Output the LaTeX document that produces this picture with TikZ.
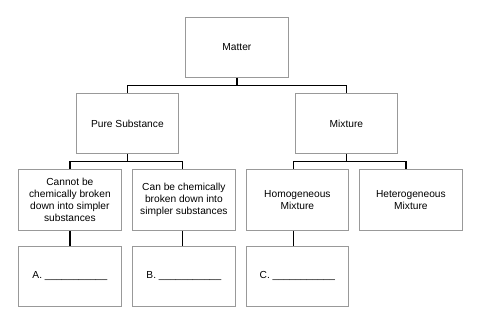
\documentclass[tikz,border=0pt]{standalone}
\usepackage{fontspec}
\setmainfont{Liberation Sans}
\begin{document}
\begin{tikzpicture}[x=1pt,y=-1pt,
  box/.style={draw=black!40, line width=0.8pt, minimum width=103pt, minimum height=61pt,
    inner sep=0pt, align=center, anchor=north west,
    font=\fontsize{10.2}{12.3}\selectfont},
  conn/.style={line width=1.4pt, draw=black}]
\useasboundingbox[fill=white] (0,0) rectangle (483,323);
\node[box, minimum height=60pt] (matter) at (185,17) {Matter};
\node[box, minimum width=102pt, minimum height=60pt] (pure) at (76,93) {Pure Substance};
\node[box, minimum width=102pt, minimum height=60pt] (mix) at (295,93) {Mixture};
\node[box] (c1) at (18,169) {Cannot be\\chemically broken\\down into simpler\\substances};
\node[box] (c2) at (132,169) {Can be chemically\\broken down into\\simpler substances};
\node[box, minimum width=102pt] (c3) at (246,169) {Homogeneous\\Mixture};
\node[box] (c4) at (359,169) {Heterogeneous\\Mixture};
\node[box, minimum height=60pt] (d1) at (18,246) {A. \_\_\_\_\_\_\_\_\_\_\_};
\node[box, minimum height=60pt] (d2) at (132,246) {B. \_\_\_\_\_\_\_\_\_\_\_};
\node[box, minimum width=102pt, minimum height=60pt] (d3) at (246,246) {C. \_\_\_\_\_\_\_\_\_\_\_};
\draw[conn] (matter.south) -- ++(0,8) coordinate (m1) -| (pure.north);
\draw[conn] (m1) -| (mix.north);
\draw[conn] (pure.south) -- ++(0,8) coordinate (p1) -| (c1.north);
\draw[conn] (p1) -| ([xshift=-1.5pt]c2.north);
\draw[conn] (mix.south) -- ++(0,8) coordinate (x1) -| ([xshift=-4pt]c3.north);
\draw[conn] (x1) -| ([xshift=-5pt]c4.north);
\draw[conn] (c1.south) -- (d1.north);
\draw[conn] ([xshift=-1.5pt]c2.south) -- ([xshift=-1.5pt]d2.north);
\draw[conn] ([xshift=-4pt]c3.south) -- ([xshift=-4pt]d3.north);
\end{tikzpicture}
\end{document}
